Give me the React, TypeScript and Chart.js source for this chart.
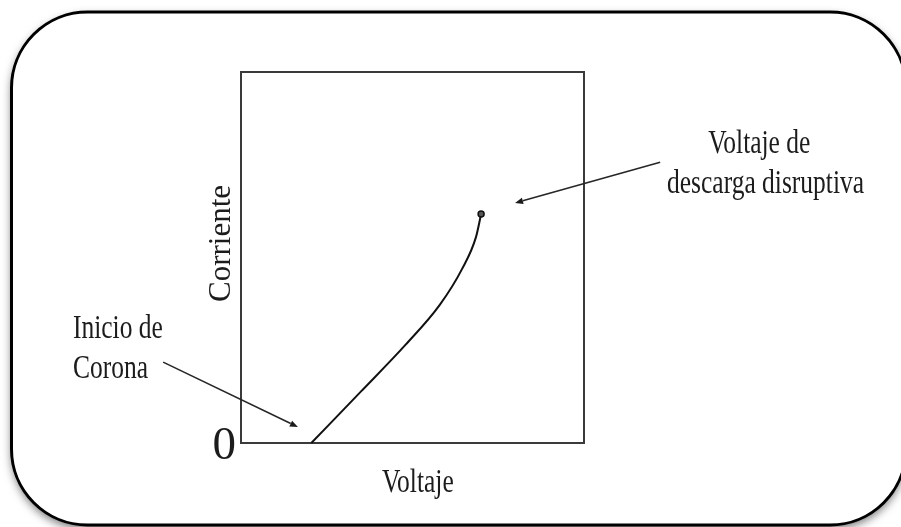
import React, { useEffect, useRef } from "react";
import { Chart, registerables } from "chart.js";

Chart.register(...registerables);

// Curve: current vs voltage (arbitrary units, axes 0..100)
const voltage = [20.5, 35.0, 48.0, 58.0, 64.5, 68.5, 70.0];
const current = [0, 13.9, 26.5, 37.3, 47.0, 55.5, 61.7];

// Tick labels
const yTickValues = [0];
const yTickLabels = ["0"];

// Axis titles
const xTitle = "Voltaje";
const yTitle = "Corriente";

// Annotation texts (lines)
const noteLines = ["Inicio de", "Corona", "Voltaje de", "descarga disruptiva"];
const noteX = [-49.0, -49.0, 136.2, 124.2];
const noteY = [28.3, 17.5, 78.2, 67.4];

// Arrows (data units)
const arrowTailX = [-22.7, 122.2];
const arrowTailY = [21.8, 75.7];
const arrowHeadX = [16.6, 79.9];
const arrowHeadY = [4.3, 64.7];

const SERIF = '"Liberation Serif", "Times New Roman", serif';
const TEXT_COLOR = "#1c1c1c";
const STRETCH = 1.28;

const framePlugin = {
  id: "frame",
  beforeDraw(chart: any) {
    const ctx = chart.ctx as CanvasRenderingContext2D;
    const w = chart.width;
    const h = chart.height;
    ctx.save();
    ctx.fillStyle = "#ffffff";
    ctx.fillRect(0, 0, w, h);
    const x0 = 11.5, y0 = 12, x1 = 906, y1 = 525, r = 76;
    const path = new Path2D();
    path.moveTo(x0 + r, y0);
    path.lineTo(x1 - r, y0);
    path.arcTo(x1, y0, x1, y0 + r, r);
    path.lineTo(x1, y1 - r);
    path.arcTo(x1, y1, x1 - r, y1, r);
    path.lineTo(x0 + r, y1);
    path.arcTo(x0, y1, x0, y1 - r, r);
    path.lineTo(x0, y0 + r);
    path.arcTo(x0, y0, x0 + r, y0, r);
    path.closePath();
    ctx.shadowColor = "rgba(0,0,0,0.55)";
    ctx.shadowBlur = 10;
    ctx.shadowOffsetX = 0;
    ctx.shadowOffsetY = 4;
    ctx.fillStyle = "#ffffff";
    ctx.fill(path);
    ctx.shadowColor = "transparent";
    ctx.lineWidth = 3;
    ctx.strokeStyle = "#000000";
    ctx.stroke(path);
    ctx.restore();
  },
};

const notesPlugin = {
  id: "notes",
  afterDraw(chart: any) {
    const ctx = chart.ctx as CanvasRenderingContext2D;
    const xs = chart.scales.x;
    const ys = chart.scales.y;
    const area = chart.chartArea;
    ctx.save();
    ctx.fillStyle = TEXT_COLOR;
    ctx.textBaseline = "alphabetic";
    ctx.textAlign = "left";
    ctx.font = `25.5px ${SERIF}`;

    const stretched = (text: string, px: number, py: number) => {
      ctx.save();
      ctx.translate(px, py);
      ctx.scale(1, STRETCH);
      ctx.fillText(text, 0, 0);
      ctx.restore();
    };

    noteLines.forEach((t, i) => {
      stretched(t, xs.getPixelForValue(noteX[i]), ys.getPixelForValue(noteY[i]));
    });

    // x axis title
    stretched(xTitle, xs.getPixelForValue(41.1), area.bottom + 49);

    // y axis title (rotated)
    ctx.save();
    ctx.font = `31px ${SERIF}`;
    ctx.translate(area.left - 11, ys.getPixelForValue(38.0));
    ctx.rotate(-Math.PI / 2);
    ctx.fillText(yTitle, 0, 0);
    ctx.restore();

    // arrows
    ctx.strokeStyle = "#262626";
    ctx.fillStyle = "#1a1a1a";
    ctx.lineWidth = 1.6;
    arrowTailX.forEach((_, i) => {
      const tx = xs.getPixelForValue(arrowTailX[i]);
      const ty = ys.getPixelForValue(arrowTailY[i]);
      const hx = xs.getPixelForValue(arrowHeadX[i]);
      const hy = ys.getPixelForValue(arrowHeadY[i]);
      const ang = Math.atan2(hy - ty, hx - tx);
      const len = 8, half = 3.2;
      const bx = hx - Math.cos(ang) * len;
      const by = hy - Math.sin(ang) * len;
      ctx.beginPath();
      ctx.moveTo(tx, ty);
      ctx.lineTo(bx, by);
      ctx.stroke();
      ctx.beginPath();
      ctx.moveTo(hx, hy);
      ctx.lineTo(bx - Math.sin(ang) * half, by + Math.cos(ang) * half);
      ctx.lineTo(bx + Math.sin(ang) * half, by - Math.cos(ang) * half);
      ctx.closePath();
      ctx.fill();
    });
    ctx.restore();
  },
};

const hiddenAxis = (position: string, axis: string) => ({
  type: "linear",
  axis,
  position,
  min: 0,
  max: 100,
  display: true,
  ticks: { display: false },
  grid: { display: false, drawTicks: false },
  border: { display: true, color: "#3a3a3a", width: 2 },
  title: { display: false },
  afterFit(scale: any) {
    if (axis === "x") scale.height = 0;
    else scale.width = 0;
  },
});

export default function App() {
  const ref = useRef<HTMLCanvasElement | null>(null);

  useEffect(() => {
    document.body.style.margin = "0";
    const canvas = ref.current;
    if (!canvas) return;
    const chart = new Chart(canvas, {
      type: "line",
      data: {
        datasets: [
          {
            data: voltage.map((v, i) => ({ x: v, y: current[i] })),
            borderColor: "#111111",
            borderWidth: 2,
            cubicInterpolationMode: "monotone",
            pointRadius: voltage.map((_, i) => (i === voltage.length - 1 ? 3 : 0)),
            pointBackgroundColor: "#555555",
            pointBorderColor: "#111111",
            pointBorderWidth: 1.5,
            fill: false,
            clip: false,
          } as any,
        ],
      },
      options: {
        responsive: false,
        animation: false,
        events: [],
        layout: { padding: { left: 211, top: 72, right: 317, bottom: 84 } },
        plugins: { legend: { display: false }, tooltip: { enabled: false }, title: { display: false } },
        scales: {
          x: hiddenAxis("bottom", "x") as any,
          x2: hiddenAxis("top", "x") as any,
          y2: hiddenAxis("right", "y") as any,
          y: {
            type: "linear",
            position: "left",
            min: 0,
            max: 100,
            afterBuildTicks(scale: any) {
              scale.ticks = yTickValues.map((v) => ({ value: v }));
            },
            afterFit(scale: any) {
              scale.width = 30;
            },
            ticks: {
              display: true,
              padding: 5,
              labelOffset: 3.5,
              color: TEXT_COLOR,
              font: { family: SERIF, size: 47 },
              callback: (value: any) => {
                const idx = yTickValues.indexOf(Number(value));
                return idx >= 0 ? yTickLabels[idx] : "";
              },
            },
            grid: { display: false, drawTicks: false },
            border: { display: true, color: "#3a3a3a", width: 2 },
            title: { display: false },
          } as any,
        },
      },
      plugins: [framePlugin, notesPlugin],
    });
    return () => chart.destroy();
  }, []);

  return <canvas ref={ref} width={901} height={527} style={{ display: "block" }} />;
}
